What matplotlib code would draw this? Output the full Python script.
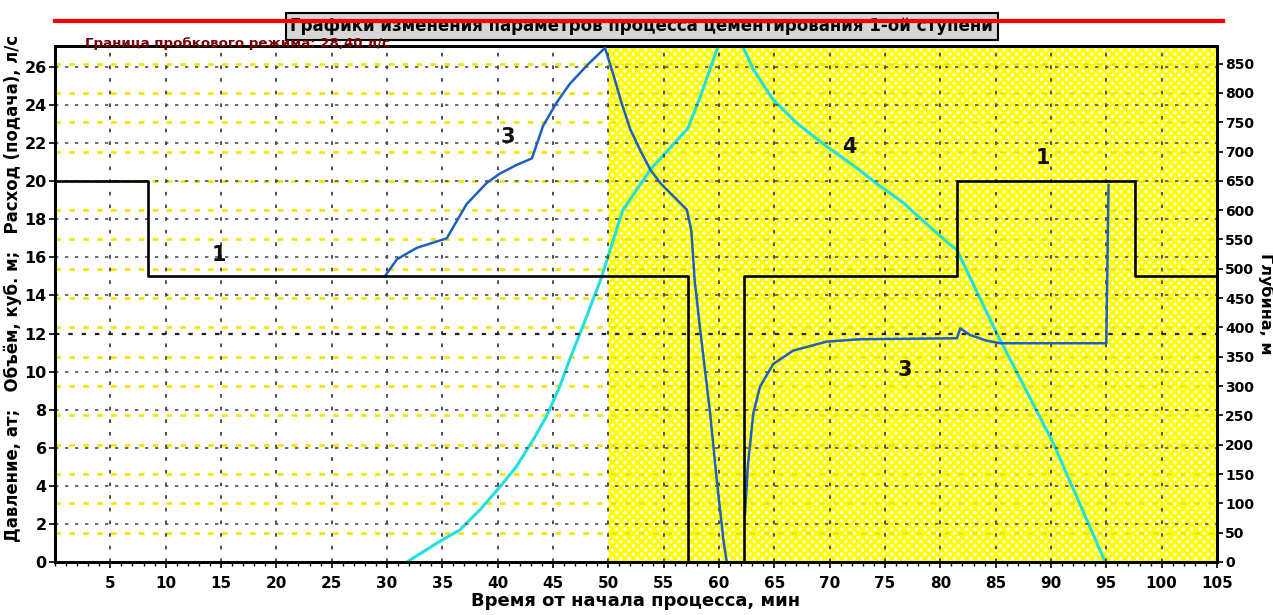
import numpy as np
import matplotlib
matplotlib.use("Agg")
import matplotlib.pyplot as plt
from matplotlib.ticker import MultipleLocator

plt.rcParams['font.family'] = ['DejaVu Sans']
plt.rcParams['hatch.linewidth'] = 2.1

# --- данные ---
# 1: давление (ступенчатая линия), левая ось
press_t = [0, 8.4, 57.2, 62.3, 81.5, 97.6, 105]
press_v = [20, 15, 0, 15, 20, 15, 15]

# 3: расход, до остановки
flow1_t = [29.8, 30.9, 32.7, 35.4, 37.2, 39.0, 40.2, 41.7, 43.1, 44.1, 45.3, 46.5,
           48.1, 49.7, 50.5, 51.2, 52.0, 52.9, 53.8, 54.7, 55.9, 57.1, 57.5, 57.8,
           58.3, 59.2, 59.8, 60.4, 60.7]
flow1_v = [15.0, 15.9, 16.5, 17.0, 18.8, 19.9, 20.4, 20.85, 21.2, 22.9, 24.1, 25.1,
           26.1, 27.0, 25.5, 24.1, 22.7, 21.6, 20.6, 19.9, 19.2, 18.5, 17.4, 14.8,
           12.2, 7.8, 4.3, 1.15, 0.0]
# 3: расход, после остановки
flow2_t = [62.35, 62.6, 63.1, 63.7, 64.9, 66.7, 69.7, 72.7, 81.5, 81.8, 82.7, 84.2,
           85.4, 95.0, 95.2]
flow2_v = [2.5, 5.0, 7.8, 9.2, 10.4, 11.1, 11.57, 11.7, 11.75, 12.27, 11.92, 11.62,
           11.49, 11.49, 19.8]

# 4: глубина, правая ось
depth_t = [31.8, 34.5, 36.6, 38.4, 40.2, 41.7, 43.2, 44.4, 45.6, 46.5, 47.7, 49.3,
           51.3, 53.8, 57.2, 58.3, 59.8, 60.5, 61.8, 62.2, 63.1, 64.9, 67.0, 69.7,
           72.1, 74.2, 76.7, 78.5, 80.7, 81.5, 85.1, 90.2, 94.9]
depth_v = [0, 32, 55, 89, 128, 163, 208, 248, 299, 345, 402, 481,
           600, 669, 740, 793, 873, 910, 910, 877, 840, 788, 749, 709,
           677, 646, 612, 581, 544, 532, 390, 203, 0]

x_ticks = list(range(5, 106, 5))
left_ticks = list(range(0, 27, 2))
right_ticks = list(range(0, 851, 50))
limit_flow = 28.4

cond = dict(family=['DejaVu Sans Condensed', 'DejaVu Sans'], fontstretch='condensed')

fig = plt.figure(figsize=(12.73, 6.15), dpi=100)
ax2 = fig.add_axes([0.0432, 0.0862, 0.9128, 0.8390])
ax = ax2.twinx()
ax.yaxis.tick_left()
ax.yaxis.set_label_position('left')
ax2.yaxis.tick_right()
ax2.yaxis.set_label_position('right')
ax.set_zorder(2)
ax.patch.set_visible(False)

# фон: жёлтая штриховка после 50 мин
ax2.axvspan(50, 105, facecolor='white', edgecolor='#ffff00', hatch='xxxx',
            linewidth=0, zorder=0)

ax2.set_xlim(0, 105)
ax2.set_ylim(0, 880)
ax.set_ylim(0, 27.1)

ax2.set_yticks(right_ticks)
ax.set_yticks(left_ticks)
ax2.set_xticks(x_ticks)
ax2.xaxis.set_minor_locator(MultipleLocator(1))

# сетка
for y in right_ticks:
    ax2.axhline(y, color='#f2e600', lw=2.0, ls=(0, (2, 3)), zorder=1)
for x in x_ticks[:-1]:
    ax.axvline(x, color='#404040', lw=1.3, ls=(0, (2, 5)), zorder=1)
for y in left_ticks[1:]:
    ax.axhline(y, color='#202020' if y == 12 else '#505050', lw=1.6 if y == 12 else 1.2,
               ls=(0, (2, 4)), zorder=1)

# линии
ax2.plot(depth_t, depth_v, color='#22e0e0', lw=2.2, zorder=3)
ax.plot(flow1_t, flow1_v, color='#1f5fbf', lw=1.8, zorder=4)
ax.plot(flow2_t, flow2_v, color='#1f5fbf', lw=1.8, zorder=4)
ax.step(press_t, press_v, where='post', color='black', lw=1.9, zorder=5)

# подписи кривых
lab = dict(fontsize=15, fontweight='bold', color='#111111', zorder=6)
ax.text(14.8, 16.1, '1', ha='center', va='center', **lab)
ax.text(40.9, 22.3, '3', ha='center', va='center', **lab)
ax.text(71.8, 21.8, '4', ha='center', va='center', **lab)
ax.text(89.3, 21.2, '1', ha='center', va='center', **lab)
ax.text(76.8, 10.1, '3', ha='center', va='center', **lab)

# граница пробкового режима и заголовок
ax.text(0.504, 0.957, 'Графики изменения параметров процесса цементирования 1-ой ступени',
        transform=fig.transFigure, ha='center', va='center', fontsize=13.3,
        fontweight='bold', zorder=7,
        bbox=dict(boxstyle='square,pad=0.25', facecolor='#d6d6d6', edgecolor='black', lw=1.5),
        **cond)
ax.plot([0, 105.5], [limit_flow, limit_flow], color='#ff0000', lw=3, clip_on=False, zorder=8)
ax.text(0.067, 0.929, 'Граница пробкового режима: 28,40 л/с', transform=fig.transFigure,
        ha='left', va='center', fontsize=9.6, fontweight='bold', color='#7a0000', zorder=7)

# оси
for a in (ax, ax2):
    for s in a.spines.values():
        s.set_linewidth(2)
        s.set_color('black')
ax.tick_params(axis='y', labelsize=11.5, length=4, width=1.2, pad=2)
ax2.tick_params(axis='y', labelsize=10, length=4, width=1.2, pad=2)
ax2.tick_params(axis='x', which='major', labelsize=11, length=4, width=1.2, pad=6)
ax2.tick_params(axis='x', which='minor', length=3, width=1)
for t in ax.get_yticklabels() + ax2.get_yticklabels() + ax2.get_xticklabels():
    t.set_fontweight('bold')

ax.set_ylabel('Давление, ат;   Объём, куб. м;   Расход (подача), л/с',
              fontsize=13.2, fontweight='bold', **cond)
ax.yaxis.set_label_coords(-0.028, 0.53)
ax2.set_ylabel('Глубина, м', fontsize=11.5, fontweight='bold', rotation=270, labelpad=14)
ax2.set_xlabel('Время от начала процесса, мин', fontsize=13, fontweight='bold', labelpad=1)

plt.savefig('out.png', dpi=100)
